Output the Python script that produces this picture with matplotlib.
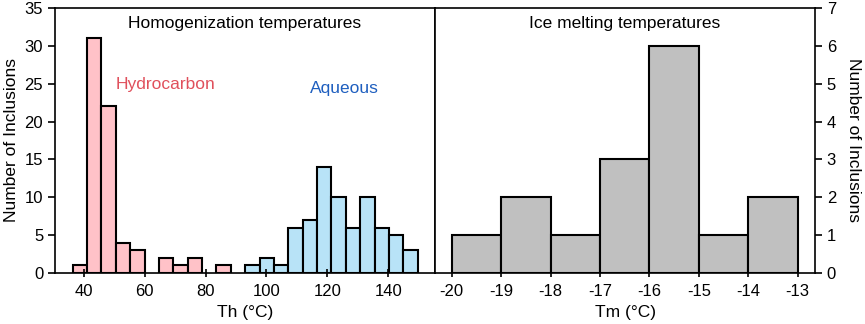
import matplotlib.pyplot as plt
import numpy as np

plt.rcParams['font.family'] = ['Liberation Sans', 'DejaVu Sans']

# homogenization temperature histogram (bin edges)
th_edges = np.linspace(36.4, 149.6, 25)
th_counts = [1, 31, 22, 4, 3, 0, 2, 1, 2, 0, 1, 0,
             1, 2, 1, 6, 7, 14, 10, 6, 10, 6, 5, 3]
th_type = ['h'] * 12 + ['a'] * 12   # hydrocarbon / aqueous

# ice melting temperatures
tm_edges = [-20, -19, -18, -17, -16, -15, -14, -13]
tm_counts = [1, 2, 1, 3, 6, 1, 2]

pink = '#ffc2c8'
blue = '#b8e3f7'
grey = '#c0c0c0'

fig = plt.figure(figsize=(8.65, 3.24), dpi=100)
ax1 = fig.add_axes([0.0636, 0.1574, 0.4393, 0.818])
ax2 = fig.add_axes([0.5029, 0.1574, 0.4393, 0.818])

lefts = np.array(th_edges[:-1])
widths = np.diff(th_edges)
for x, w, c, t in zip(lefts, widths, th_counts, th_type):
    if c == 0:
        continue
    ax1.bar(x, c, width=w, align='edge', color=pink if t == 'h' else blue,
            edgecolor='black', linewidth=1.5)

ax1.set_xlim(30.6, 155.3)
ax1.set_ylim(0, 35)
ax1.set_xticks([40, 60, 80, 100, 120, 140])
ax1.set_yticks(range(0, 36, 5))
ax1.set_xlabel('Th (°C)', fontsize=12.5, labelpad=4)
ax1.set_ylabel('Number of Inclusions', fontsize=12.5)
ax1.tick_params(axis='x', direction='inout', length=6, width=1.2, labelsize=12, pad=5)
ax1.tick_params(axis='y', direction='out', length=5, width=1.2, labelsize=12)
ax1.text(0.5, 0.94, 'Homogenization temperatures', transform=ax1.transAxes,
         ha='center', va='center', fontsize=12.5)
ax1.text(67, 24.9, 'Hydrocarbon', color='#e0505c', ha='center', va='center',
         fontsize=12.5)
ax1.text(125.5, 24.4, 'Aqueous', color='#1f5fbf', ha='center', va='center',
         fontsize=12.5)

ax2.bar(tm_edges[:-1], tm_counts, width=np.diff(tm_edges), align='edge',
        color=grey, edgecolor='black', linewidth=1.5)
ax2.set_xlim(-20.34, -12.65)
ax2.set_ylim(0, 7)
ax2.set_xticks(tm_edges)
ax2.set_xticklabels([str(v) for v in tm_edges])
ax2.yaxis.tick_right()
ax2.yaxis.set_label_position('right')
ax2.set_yticks(range(0, 8))
ax2.set_xlabel('Tm (°C)', fontsize=12.5, labelpad=4)
ax2.set_ylabel('Number of Inclusions', fontsize=12.5, rotation=270, labelpad=18)
ax2.tick_params(axis='x', direction='inout', length=6, width=1.2, labelsize=12, pad=5)
ax2.tick_params(axis='y', direction='out', length=5, width=1.2, labelsize=12)
ax2.text(0.5, 0.94, 'Ice melting temperatures', transform=ax2.transAxes,
         ha='center', va='center', fontsize=12.5)

for ax in (ax1, ax2):
    for s in ax.spines.values():
        s.set_linewidth(1.2)

fig.savefig('out.png', dpi=100)
